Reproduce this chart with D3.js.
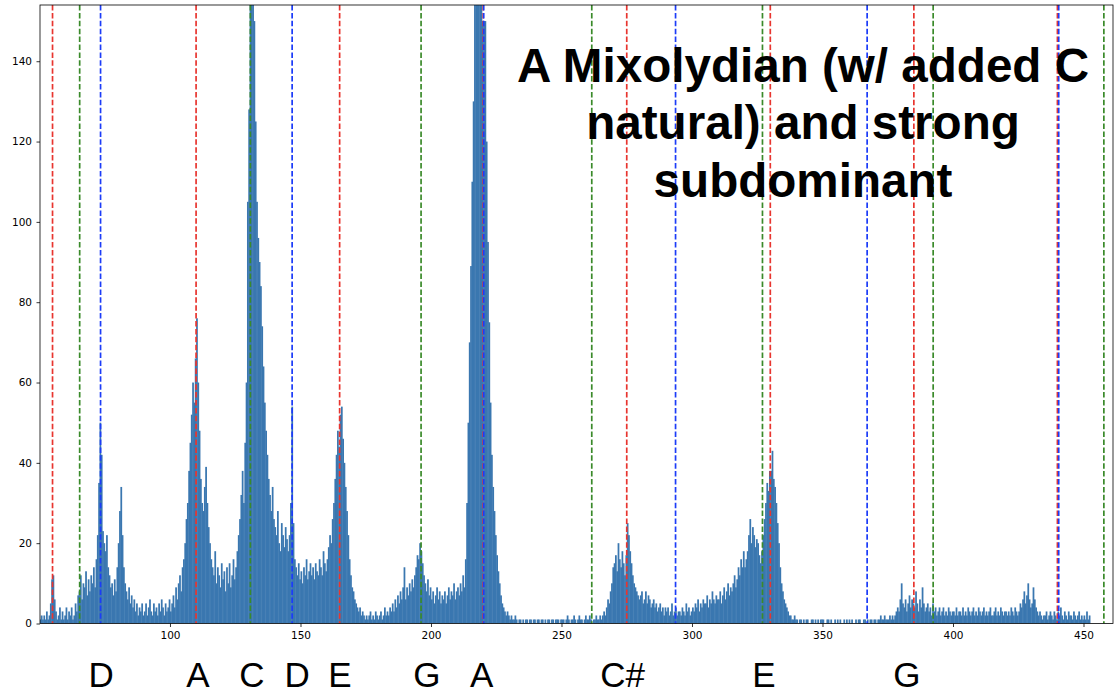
<!DOCTYPE html>
<html><head><meta charset="utf-8">
<script src="https://cdn.jsdelivr.net/npm/d3@7"></script>
<style>body{margin:0;background:#fff} svg{display:block}</style>
</head><body><svg id="c" width="1114" height="694"></svg>
<script>
// histogram of detected pitch (Hz), bins of 0.5 Hz starting at 50 Hz
const binStart = 50, binWidth = 0.5;
const counts = [
1,2,1,2,1,3,1,2,5,11,
12,6,3,1,2,4,1,3,1,2,
4,1,3,2,4,1,2,5,3,7,
8,12,6,10,9,13,7,11,8,12,
10,14,9,16,22,35,50,42,23,20,
18,22,14,12,9,10,7,11,8,14,
20,28,34,22,14,10,8,6,9,5,
7,4,6,3,5,2,4,3,5,2,
3,5,2,4,6,3,2,5,3,4,
2,5,3,6,4,2,5,3,4,6,
3,5,7,4,9,6,10,12,8,14,
16,20,26,30,38,45,52,60,55,66,
76,60,48,36,30,28,34,39,30,24,
20,16,14,12,18,10,14,12,9,15,
11,13,8,14,10,15,9,12,16,11,
14,18,22,26,32,38,30,45,60,105,
128,160,175,170,150,125,105,96,90,84,
74,64,55,48,42,36,32,28,34,26,
24,22,28,20,18,25,22,19,24,21,
18,22,30,54,25,16,14,12,15,11,
13,10,14,12,16,11,13,15,12,14,
11,15,13,12,16,14,12,18,15,13,
16,19,22,20,26,30,36,42,48,44,
52,54,46,40,34,28,22,16,12,9,
8,6,5,4,3,4,2,3,2,1,
2,1,2,3,1,2,1,3,2,1,
2,3,1,2,4,2,3,2,4,3,
5,3,6,4,7,5,8,6,9,14,
6,9,7,10,8,11,9,12,14,17,
16,20,18,15,12,10,8,11,7,9,
6,8,5,7,9,6,8,5,7,6,
8,5,7,9,6,8,7,10,6,8,
9,7,10,8,12,9,16,30,50,70,
89,110,130,170,175,180,170,165,160,150,
150,150,120,95,75,55,42,34,28,22,
17,13,10,7,5,4,3,2,3,2,
1,2,1,1,2,1,0,1,1,0,
1,0,1,1,0,1,1,0,1,1,
0,1,1,0,1,1,0,1,0,1,
1,0,1,1,0,1,1,1,0,1,
1,1,0,1,2,1,0,1,1,2,
1,0,1,2,1,1,0,1,2,1,
1,2,1,0,1,1,2,1,1,2,
1,2,3,2,4,6,5,8,10,14,
15,17,13,20,16,14,18,15,12,17,
25,22,18,15,12,10,9,8,7,6,
7,8,5,6,8,5,7,6,4,5,
6,4,5,3,4,5,3,4,2,4,
3,4,2,3,5,2,3,4,2,3,
3,2,4,3,2,5,3,4,2,3,
4,3,5,4,6,3,5,4,6,5,
5,7,4,6,5,8,6,5,7,6,
6,8,5,7,9,6,8,10,7,9,
8,10,12,9,11,14,12,16,14,18,
14,16,18,22,26,20,24,22,19,21,
20,17,15,18,22,26,30,35,33,38,
38,43,36,34,30,25,20,14,10,8,
6,5,4,3,2,2,1,1,2,1,
1,0,1,1,0,1,0,1,1,0,
0,1,1,0,1,0,1,0,1,1,
1,0,0,1,1,0,1,0,0,1,
0,1,0,1,0,0,1,0,1,0,
1,0,1,0,0,1,0,1,1,0,
0,1,1,0,1,0,1,1,0,1,
1,0,1,1,2,1,1,2,1,1,
1,2,1,2,1,2,3,4,3,6,
10,5,4,6,3,5,7,4,6,5,
4,8,5,3,6,4,9,5,3,4,
5,3,4,2,5,3,4,2,3,4,
2,3,4,2,3,2,4,3,2,3,
3,2,4,2,3,3,2,4,2,3,
2,4,3,2,3,4,2,3,2,4,
3,2,3,4,2,3,2,3,4,2,
2,3,4,2,3,2,4,3,2,3,
3,2,3,2,4,3,2,4,3,2,
3,5,4,6,8,5,7,10,6,4,
5,9,6,4,3,2,3,2,1,2,
2,3,1,2,3,2,1,3,2,1,
3,2,4,2,1,3,2,1,3,2,
2,1,3,2,1,2,3,1,2,1,
2,1,3,1,2,0,0,0,0,0
];
// harmonic series reference lines (Hz)
const aHarmonics = [55, 110, 165, 220, 275, 330, 385, 440];
const cHarmonics = [65.4, 130.8, 196.2, 261.6, 327.0, 392.4, 457.8];
const dHarmonics = [73.4, 146.8, 220.2, 293.7, 367.1, 440.5];
const xTicks = [100, 150, 200, 250, 300, 350, 400, 450];
const yTicks = [0, 20, 40, 60, 80, 100, 120, 140];
const noteNames = ["D", "A", "C", "D", "E", "G", "A", "C#", "E", "G"];
const notePos = [73.6, 110.7, 131.4, 148.7, 165.1, 198.4, 219.4, 273.4, 327.6, 382.3];
const titleLines = ["A Mixolydian (w/ added C", "natural) and strong", "subdominant"];

const L = 40, R = 1113, T = 5, B = 623.5;
const svg = d3.select("#c");
const x = d3.scaleLinear().domain([50.2, 461.3]).range([L, R]);
const y = d3.scaleLinear().domain([0, 154]).range([B, T]);

svg.append("defs").append("clipPath").attr("id", "clip")
  .append("rect").attr("x", L).attr("y", T).attr("width", R - L).attr("height", B - T);

const plot = svg.append("g").attr("clip-path", "url(#clip)");
const bw = x(binStart + binWidth) - x(binStart);
plot.selectAll("rect.bar").data(counts).join("rect")
  .attr("class", "bar")
  .attr("x", (d, i) => x(binStart + i * binWidth))
  .attr("width", bw + 0.45)
  .attr("y", d => y(d))
  .attr("height", d => B - y(d))
  .attr("fill", "#3a77b0");

// title
svg.append("g").selectAll("text").data(titleLines).join("text")
  .attr("x", 803).attr("y", (d, i) => [82, 139, 197][i])
  .attr("text-anchor", "middle")
  .attr("font-family", "Liberation Sans, Arial, sans-serif")
  .attr("font-weight", "bold").attr("font-size", 47.6)
  .attr("fill", "#000").text(d => d);

function vlines(vals, color, cls) {
  plot.selectAll("line." + cls).data(vals).join("line")
    .attr("class", cls)
    .attr("x1", d => x(d)).attr("x2", d => x(d))
    .attr("y1", T).attr("y2", B)
    .attr("stroke", color).attr("stroke-width", 1.7)
    .attr("stroke-dasharray", "5.5,2.4");
}
vlines(aHarmonics, "#e8352f", "ra");
vlines(cHarmonics, "#3a8a2a", "gc");
vlines(dHarmonics, "#1c3cf8", "bd");

// axes
const fontAx = "DejaVu Sans, sans-serif";
const xa = svg.append("g").attr("transform", `translate(0,${B})`)
  .call(d3.axisBottom(x).tickValues(xTicks).tickSize(3.5).tickPadding(5).tickSizeOuter(0));
const ya = svg.append("g").attr("transform", `translate(${L},0)`)
  .call(d3.axisLeft(y).tickValues(yTicks).tickSize(3.5).tickPadding(4.5).tickSizeOuter(0));
[xa, ya].forEach(a => {
  a.select(".domain").remove();
  a.selectAll("line").attr("stroke", "#000").attr("stroke-width", 0.8);
  a.selectAll("text").attr("font-family", fontAx).attr("font-size", 10.5).attr("fill", "#000");
});
// frame
svg.append("rect").attr("x", L).attr("y", T).attr("width", R - L).attr("height", B - T)
  .attr("fill", "none").attr("stroke", "#000").attr("stroke-width", 0.8);

// note labels
svg.append("g").selectAll("text").data(noteNames).join("text")
  .attr("x", (d, i) => x(notePos[i])).attr("y", 687)
  .attr("text-anchor", "middle")
  .attr("font-family", "Liberation Sans, Arial, sans-serif")
  .attr("font-size", 35).attr("fill", "#000").text(d => d);
</script></body></html>
